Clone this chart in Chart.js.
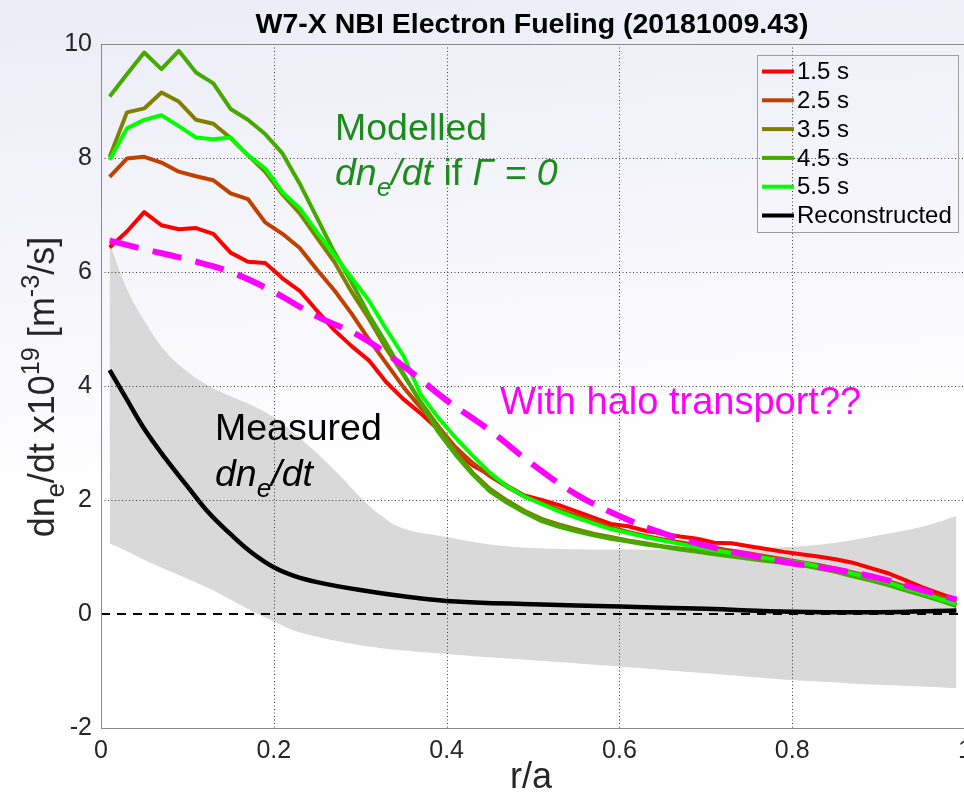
<!DOCTYPE html>
<html>
<head>
<meta charset="utf-8">
<script src="https://cdn.jsdelivr.net/npm/chart.js@4.4.1/dist/chart.umd.min.js"></script>
<style>
  html, body {
    margin: 0; padding: 0; overflow: hidden; width: 964px; height: 798px;
    background: linear-gradient(175deg, #ececf7 0%, #f5f5fb 30%, #ffffff 58%);
  }
  #wrap { position: relative; width: 980px; height: 798px; }
</style>
</head>
<body>
<div id="wrap"><canvas id="fuelingChart" width="980" height="798"></canvas></div>
<script>
// --- Data ---
const rModel = [0.01, 0.03, 0.05, 0.07, 0.09, 0.11, 0.13, 0.15, 0.17, 0.19,
                0.21, 0.23, 0.25, 0.27, 0.29, 0.31, 0.33, 0.35, 0.37, 0.39,
                0.41, 0.43, 0.45, 0.47, 0.49, 0.51, 0.53, 0.55, 0.57, 0.59,
                0.61, 0.63, 0.65, 0.67, 0.69, 0.71, 0.73, 0.75, 0.77, 0.79,
                0.81, 0.83, 0.85, 0.87, 0.89, 0.91, 0.93, 0.95, 0.97, 0.99];

const fuel15 = [6.43, 6.71, 7.05, 6.82, 6.75, 6.77, 6.67, 6.34, 6.18, 6.16,
                5.89, 5.67, 5.32, 4.98, 4.70, 4.45, 4.07, 3.77, 3.52, 3.24,
                2.85, 2.61, 2.44, 2.25, 2.08, 2.00, 1.91, 1.80, 1.69, 1.58,
                1.54, 1.46, 1.41, 1.36, 1.32, 1.25, 1.24, 1.19, 1.14, 1.09,
                1.05, 1.01, 0.96, 0.90, 0.81, 0.72, 0.60, 0.47, 0.36, 0.25];
const fuel25 = [7.67, 7.99, 8.02, 7.92, 7.76, 7.68, 7.61, 7.38, 7.28, 6.87,
                6.67, 6.42, 6.04, 5.68, 5.27, 4.82, 4.40, 3.98, 3.62, 3.30,
                2.93, 2.65, 2.42, 2.23, 2.06, 1.95, 1.83, 1.73, 1.64, 1.52,
                1.44, 1.37, 1.31, 1.26, 1.21, 1.16, 1.11, 1.06, 1.01, 0.96,
                0.91, 0.86, 0.80, 0.73, 0.66, 0.58, 0.49, 0.40, 0.31, 0.22];
const fuel35 = [8.02, 8.80, 8.87, 9.15, 8.99, 8.67, 8.60, 8.35, 8.05, 7.76,
                7.36, 7.03, 6.60, 6.18, 5.65, 5.18, 4.66, 4.20, 3.72, 3.30,
                2.85, 2.48, 2.20, 1.99, 1.81, 1.67, 1.57, 1.49, 1.41, 1.35,
                1.29, 1.24, 1.19, 1.15, 1.11, 1.07, 1.03, 0.99, 0.95, 0.91,
                0.87, 0.81, 0.75, 0.68, 0.60, 0.52, 0.43, 0.34, 0.25, 0.16];
const fuel45 = [9.08, 9.47, 9.85, 9.56, 9.88, 9.50, 9.31, 8.86, 8.67, 8.42,
                8.08, 7.55, 6.95, 6.35, 5.82, 5.25, 4.75, 4.22, 3.70, 3.20,
                2.80, 2.45, 2.15, 1.95, 1.78, 1.63, 1.53, 1.45, 1.38, 1.32,
                1.27, 1.22, 1.18, 1.13, 1.09, 1.05, 1.01, 0.97, 0.93, 0.90,
                0.86, 0.80, 0.74, 0.66, 0.59, 0.51, 0.42, 0.33, 0.24, 0.14];
const fuel55 = [7.97, 8.52, 8.67, 8.75, 8.56, 8.36, 8.33, 8.36, 8.05, 7.82,
                7.40, 7.12, 6.70, 6.30, 5.90, 5.50, 5.00, 4.53, 3.85, 3.45,
                3.10, 2.78, 2.48, 2.24, 2.06, 1.93, 1.80, 1.69, 1.59, 1.49,
                1.42, 1.35, 1.29, 1.23, 1.17, 1.12, 1.07, 1.02, 0.98, 0.94,
                0.90, 0.84, 0.78, 0.71, 0.64, 0.56, 0.46, 0.37, 0.27, 0.18];

const rRecon = [0.01, 0.03, 0.05, 0.075, 0.1, 0.125, 0.15, 0.175, 0.2, 0.225,
                0.25, 0.3, 0.35, 0.4, 0.5, 0.6, 0.7, 0.8, 0.9, 0.99];
const recon  = [4.28, 3.76, 3.25, 2.72, 2.24, 1.77, 1.40, 1.07, 0.82, 0.66,
                0.56, 0.42, 0.31, 0.23, 0.17, 0.13, 0.09, 0.04, 0.03, 0.06];

const rBand    = [0.01, 0.03, 0.05, 0.075, 0.1, 0.125, 0.15, 0.175, 0.2, 0.225,
                  0.25, 0.275, 0.3, 0.325, 0.35, 0.4, 0.45, 0.5, 0.6, 0.7,
                  0.8, 0.85, 0.9, 0.95, 0.99];
const bandHigh = [6.50, 5.70, 5.15, 4.60, 4.25, 4.00, 3.82, 3.66, 3.45, 3.15,
                  2.82, 2.45, 2.05, 1.72, 1.50, 1.35, 1.22, 1.16, 1.13, 1.14,
                  1.18, 1.25, 1.38, 1.53, 1.72];
const bandLow  = [1.24, 1.10, 0.95, 0.78, 0.62, 0.45, 0.25, 0.05, -0.13, -0.30,
                  -0.40, -0.48, -0.55, -0.60, -0.64, -0.70, -0.76, -0.81, -0.92, -1.04,
                  -1.16, -1.20, -1.24, -1.27, -1.30];

const rHalo = [0.01, 0.05, 0.10, 0.15, 0.20, 0.25, 0.30, 0.35, 0.40, 0.45,
               0.50, 0.55, 0.60, 0.65, 0.70, 0.75, 0.80, 0.85, 0.90, 0.95, 0.99];
const halo  = [6.55, 6.40, 6.22, 6.00, 5.65, 5.22, 4.87, 4.35, 3.75, 3.22,
               2.62, 2.10, 1.72, 1.42, 1.20, 1.03, 0.89, 0.78, 0.63, 0.42, 0.25];

const zeroX = [0, 1];
const zeroY = [0, 0];

const xTicks = [0, 0.2, 0.4, 0.6, 0.8, 1];
const yTicks = [-2, 0, 2, 4, 6, 8, 10];

const seriesLabels = ['1.5 s', '2.5 s', '3.5 s', '4.5 s', '5.5 s', 'Reconstructed'];

const FONT = '"Liberation Sans", Arial, Helvetica, sans-serif';
const pts = (xs, ys) => xs.map((x, i) => ({ x: x, y: ys[i] }));

// draws a run of text pieces (italic / sub / sup) starting at x, baseline y
function drawRuns(ctx, runs, x, y, size, color, align) {
    const fontOf = r => (r.i ? 'italic ' : '') + (r.b ? 'bold ' : '') +
        ((r.sub || r.sup) ? size * 0.7 : size) + 'px ' + FONT;
    let total = 0;
    runs.forEach(r => { ctx.font = fontOf(r); r.w = ctx.measureText(r.t).width; total += r.w; });
    let cx = align === 'center' ? x - total / 2 : x;
    ctx.fillStyle = color;
    ctx.textAlign = 'left';
    ctx.textBaseline = 'alphabetic';
    runs.forEach(r => {
        ctx.font = fontOf(r);
        const dy = r.sub ? size * 0.28 : (r.sup ? -size * 0.42 : 0);
        ctx.fillText(r.t, cx, y + dy);
        cx += r.w;
    });
}

function modelSet(label, data, color, order) {
    return {
        label: label, data: pts(rModel, data), borderColor: color, backgroundColor: color,
        borderWidth: 4, pointRadius: 0, tension: 0, fill: false, order: order,
        borderJoinStyle: 'round', inLegend: true
    };
}

// --- dotted grid above the grey band, box, legend and texts ---
const decorations = {
    id: 'decorations',
    afterDatasetDraw(chart, args) {
        if (args.index !== 0) return; // right after the grey band fill
        const { ctx, chartArea: { top, bottom, left, right }, scales: { x, y } } = chart;
        ctx.save();
        ctx.strokeStyle = 'rgba(0,0,0,0.75)';
        ctx.lineWidth = 1;
        ctx.setLineDash([1, 2.5]);
        xTicks.forEach(v => {
            const px = Math.round(x.getPixelForValue(v)) + 0.5;
            ctx.beginPath(); ctx.moveTo(px, top); ctx.lineTo(px, bottom); ctx.stroke();
        });
        yTicks.filter(v => v !== 0).forEach(v => {
            const py = Math.round(y.getPixelForValue(v)) + 0.5;
            ctx.beginPath(); ctx.moveTo(left, py); ctx.lineTo(right, py); ctx.stroke();
        });
        ctx.restore();
    },
    afterDraw(chart) {
        const { ctx, chartArea: { top, bottom, left, right } } = chart;
        ctx.save();
        // axes box
        ctx.strokeStyle = '#8a8a8a';
        ctx.lineWidth = 1;
        ctx.beginPath();
        ctx.moveTo(left + 0.5, bottom + 0.5); ctx.lineTo(left + 0.5, top + 0.5);
        ctx.lineTo(right, top + 0.5);
        ctx.moveTo(left, bottom + 0.5); ctx.lineTo(right, bottom + 0.5);
        ctx.stroke();

        // title
        ctx.font = 'bold 28.5px ' + FONT;
        ctx.fillStyle = '#000';
        ctx.textAlign = 'center';
        ctx.textBaseline = 'alphabetic';
        ctx.fillText('W7-X NBI Electron Fueling (20181009.43)', 532, 33);

        // axis titles
        drawRuns(ctx, [{ t: 'r/a' }], 531, 788, 36, '#262626', 'center');
        ctx.save();
        ctx.translate(54, 387);
        ctx.rotate(-Math.PI / 2);
        drawRuns(ctx, [{ t: 'dn' }, { t: 'e', sub: true }, { t: '/dt x10' }, { t: '19', sup: true },
                       { t: ' [m' }, { t: '-3', sup: true }, { t: '/s]' }], 0, 0, 36, '#262626', 'center');
        ctx.restore();

        // annotations
        const green = '#1c8a1c';
        drawRuns(ctx, [{ t: 'Modelled' }], 335, 140, 37.5, green);
        drawRuns(ctx, [{ t: 'dn', i: true }, { t: 'e', i: true, sub: true }, { t: '/dt', i: true },
                       { t: ' if ' }, { t: 'Γ = 0', i: true }], 335, 185, 37.5, green);
        drawRuns(ctx, [{ t: 'Measured' }], 215, 440, 37.5, '#000');
        drawRuns(ctx, [{ t: 'dn', i: true }, { t: 'e', i: true, sub: true }, { t: '/dt', i: true }],
                 215, 486, 37.5, '#000');
        drawRuns(ctx, [{ t: 'With halo transport??' }], 500, 414, 38, '#ff00ff');

        // legend
        const bx = 757, by = 55, bw = 201, bh = 177;
        ctx.strokeStyle = '#a0a0a0';
        ctx.lineWidth = 1;
        ctx.setLineDash([]);
        ctx.strokeRect(bx + 0.5, by + 0.5, bw, bh);
        const items = chart.data.datasets.filter(d => d.inLegend);
        items.forEach((d, i) => {
            const cy = 71.5 + i * 28.8;
            ctx.strokeStyle = d.borderColor;
            ctx.lineWidth = 4;
            ctx.beginPath(); ctx.moveTo(762, cy); ctx.lineTo(794, cy); ctx.stroke();
            ctx.fillStyle = '#000';
            ctx.font = '24px ' + FONT;
            ctx.textAlign = 'left';
            ctx.textBaseline = 'middle';
            ctx.fillText(d.label, 797, cy + 1);
        });
        ctx.restore();
    }
};

const config = {
    type: 'line',
    data: {
        datasets: [
            { label: 'bandHigh', data: pts(rBand, bandHigh), borderWidth: 0, pointRadius: 0,
              backgroundColor: '#d9d9d9', fill: '+1', tension: 0.4, order: 20 },
            { label: 'bandLow', data: pts(rBand, bandLow), borderWidth: 0, pointRadius: 0,
              fill: false, tension: 0.4, order: 20 },
            { label: 'zero', data: pts(zeroX, zeroY), borderColor: '#000', borderWidth: 2,
              borderDash: [9, 7], pointRadius: 0, fill: false, order: 15 },
            modelSet(seriesLabels[0], fuel15, '#ff0000', 8),
            modelSet(seriesLabels[1], fuel25, '#c04000', 7),
            modelSet(seriesLabels[2], fuel35, '#808000', 6),
            modelSet(seriesLabels[3], fuel45, '#44aa00', 5),
            modelSet(seriesLabels[4], fuel55, '#00ff00', 4),
            { label: seriesLabels[5], data: pts(rRecon, recon), borderColor: '#000', backgroundColor: '#000',
              borderWidth: 4.5, pointRadius: 0, tension: 0.4, fill: false, order: 9, inLegend: true },
            { label: 'halo', data: pts(rHalo, halo), borderColor: '#ff00ff', borderWidth: 6,
              borderDash: [30, 14], pointRadius: 0, tension: 0.4, fill: false, order: 0 }
        ]
    },
    options: {
        responsive: false,
        animation: false,
        layout: { padding: { top: 44, right: 14, left: 0, bottom: 0 } },
        plugins: { legend: { display: false }, tooltip: { enabled: false } },
        scales: {
            x: {
                type: 'linear', min: 0, max: 1,
                afterBuildTicks: s => { s.ticks = xTicks.map(v => ({ value: v })); },
                afterFit: s => { s.height = 70; },
                grid: { display: false, drawTicks: false },
                border: { display: false },
                ticks: { color: '#262626', padding: 8, maxRotation: 0, autoSkip: false,
                         callback: v => String(v), font: { size: 25, family: FONT } }
            },
            y: {
                type: 'linear', min: -2, max: 10,
                afterBuildTicks: s => { s.ticks = yTicks.map(v => ({ value: v })); },
                afterFit: s => { s.width = 101; },
                grid: { display: false, drawTicks: false },
                border: { display: false },
                ticks: { color: '#262626', padding: 9, callback: v => String(v),
                         font: { size: 25, family: FONT } }
            }
        }
    },
    plugins: [decorations]
};

new Chart(document.getElementById('fuelingChart'), config);
</script>
</body>
</html>
